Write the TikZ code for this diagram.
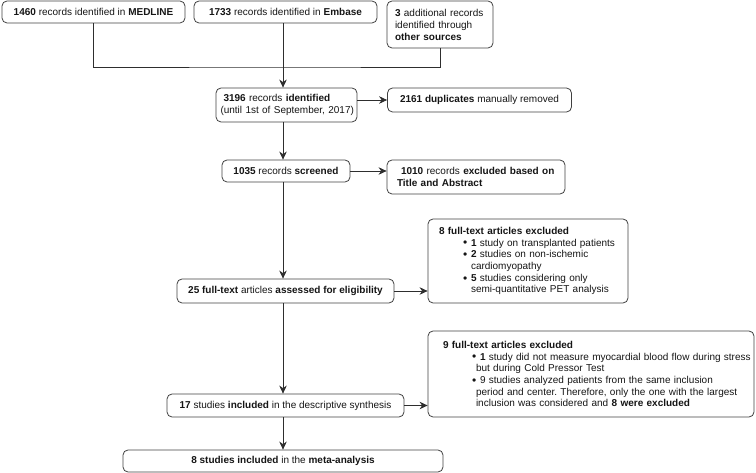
\documentclass[tikz,border=0pt]{standalone}
\usepackage{fontspec}
\setmainfont{Liberation Sans}
\usetikzlibrary{arrows.meta}
\definecolor{bordercol}{HTML}{404040}
\definecolor{linecol}{HTML}{2E2E2E}
\definecolor{txtcol}{HTML}{151515}
\frenchspacing
\newcommand{\bul}{\makebox[8pt][l]{\raisebox{-0.9pt}{\fontsize{12}{12}\selectfont\textbullet}}}
\begin{document}
\begin{tikzpicture}[x=1pt,y=-1pt,
  box/.style={draw=bordercol, line width=0.8pt, rounded corners=5pt, inner sep=0pt,
    font=\fontsize{10}{12}\selectfont, text=txtcol},
  listbox/.style={box, font=\fontsize{10}{11.7}\selectfont, align=left},
  arr/.style={draw=linecol, line width=0.9pt, -{Stealth[length=8pt,width=7.5pt,inset=2.5pt]}},
  ln/.style={draw=linecol, line width=0.9pt}]
\useasboundingbox (0,0) rectangle (756,473);

% top sources
\node[box, minimum width=183pt, minimum height=22pt] (med) at (93.5,12)
  {\textbf{1460} records identified in \textbf{MEDLINE}};
\node[box, minimum width=183pt, minimum height=22pt] (emb) at (285.5,12)
  {\textbf{1733} records identified in \textbf{Embase}};
\node[box, minimum width=106pt, minimum height=47pt, text width=90pt, align=left] (oth) at (440,24.5)
  {\textbf{3} additional records\\identified through\\\textbf{other sources}};

\coordinate (col) at (283,0);
\coordinate (jn) at (283,67);

% main column
\node[box, minimum width=141pt, minimum height=34pt, text width=132pt, align=left] (id) at (286.5,105)
  {\hspace*{3pt}\textbf{3196} records \textbf{identified}\\\mbox{(until 1st of September, 2017)}};
\node[box, minimum width=128pt, minimum height=22pt] (scr) at (286,171)
  {\textbf{1035} records \textbf{screened}};
\node[box, minimum width=217pt, minimum height=24pt] (ft) at (285.5,291)
  {\textbf{25 full-text} articles \textbf{assessed for eligibility}};
\node[box, minimum width=237pt, minimum height=23pt] (inc) at (285.5,405.5)
  {\textbf{17} studies \textbf{included} in the descriptive synthesis};
\node[box, minimum width=320pt, minimum height=22pt] (meta) at (283,461)
  {\textbf{8 studies included} in the \textbf{meta-analysis}};

% side boxes
\node[box, minimum width=184pt, minimum height=24pt] (dup) at (479.5,100)
  {\textbf{2161 duplicates} manually removed};
\node[box, minimum width=178pt, minimum height=34pt, text width=158pt, align=left] (ex1) at (476,177)
  {\hspace*{4pt}\textbf{1010} records \textbf{excluded based on}\\\textbf{Title and Abstract}};
\node[listbox, minimum width=200pt, minimum height=84pt, text width=178pt] (ex2) at (528,261)
  {\textbf{8 full-text articles excluded}\\
   \hspace*{24pt}\bul\textbf{1} study on transplanted patients\\
   \hspace*{24pt}\bul\textbf{2} studies on non-ischemic\\
   \hspace*{32pt}cardiomyopathy\\
   \hspace*{24pt}\bul\textbf{5} studies considering only\\
   \hspace*{32pt}semi-quantitative PET analysis};
\node[listbox, minimum width=326pt, minimum height=86pt, text width=296pt] (ex3) at (591,374)
  {\textbf{9 full-text articles excluded}\\
   \hspace*{29pt}\mbox{\bul\textbf{1} study did not measure myocardial blood flow during stress}\\
   \hspace*{33pt}\mbox{but during Cold Pressor Test}\\
   \hspace*{29pt}\mbox{\bul 9 studies analyzed patients from the same inclusion}\\
   \hspace*{33pt}\mbox{period and center. Therefore, only the one with the largest}\\
   \hspace*{33pt}\mbox{inclusion was considered and \textbf{8 were excluded}}};

% connectors
\draw[ln] (med.south) |- (jn) -| (oth.south);
\draw[arr] (emb.south -| col) -- (id.north -| col);
\draw[arr] (id.east |- dup.west) -- (dup.west);
\draw[arr] (id.south -| col) -- (scr.north -| col);
\draw[arr] (scr.east) -- (scr.east -| ex1.west);
\draw[arr] (scr.south -| col) -- (ft.north -| col);
\draw[arr] (ft.east) -- (ft.east -| ex2.west);
\draw[arr] (ft.south -| col) -- (inc.north -| col);
\draw[arr] (inc.east) -- (inc.east -| ex3.west);
\draw[arr] (inc.south -| col) -- (meta.north -| col);
\end{tikzpicture}
\end{document}
